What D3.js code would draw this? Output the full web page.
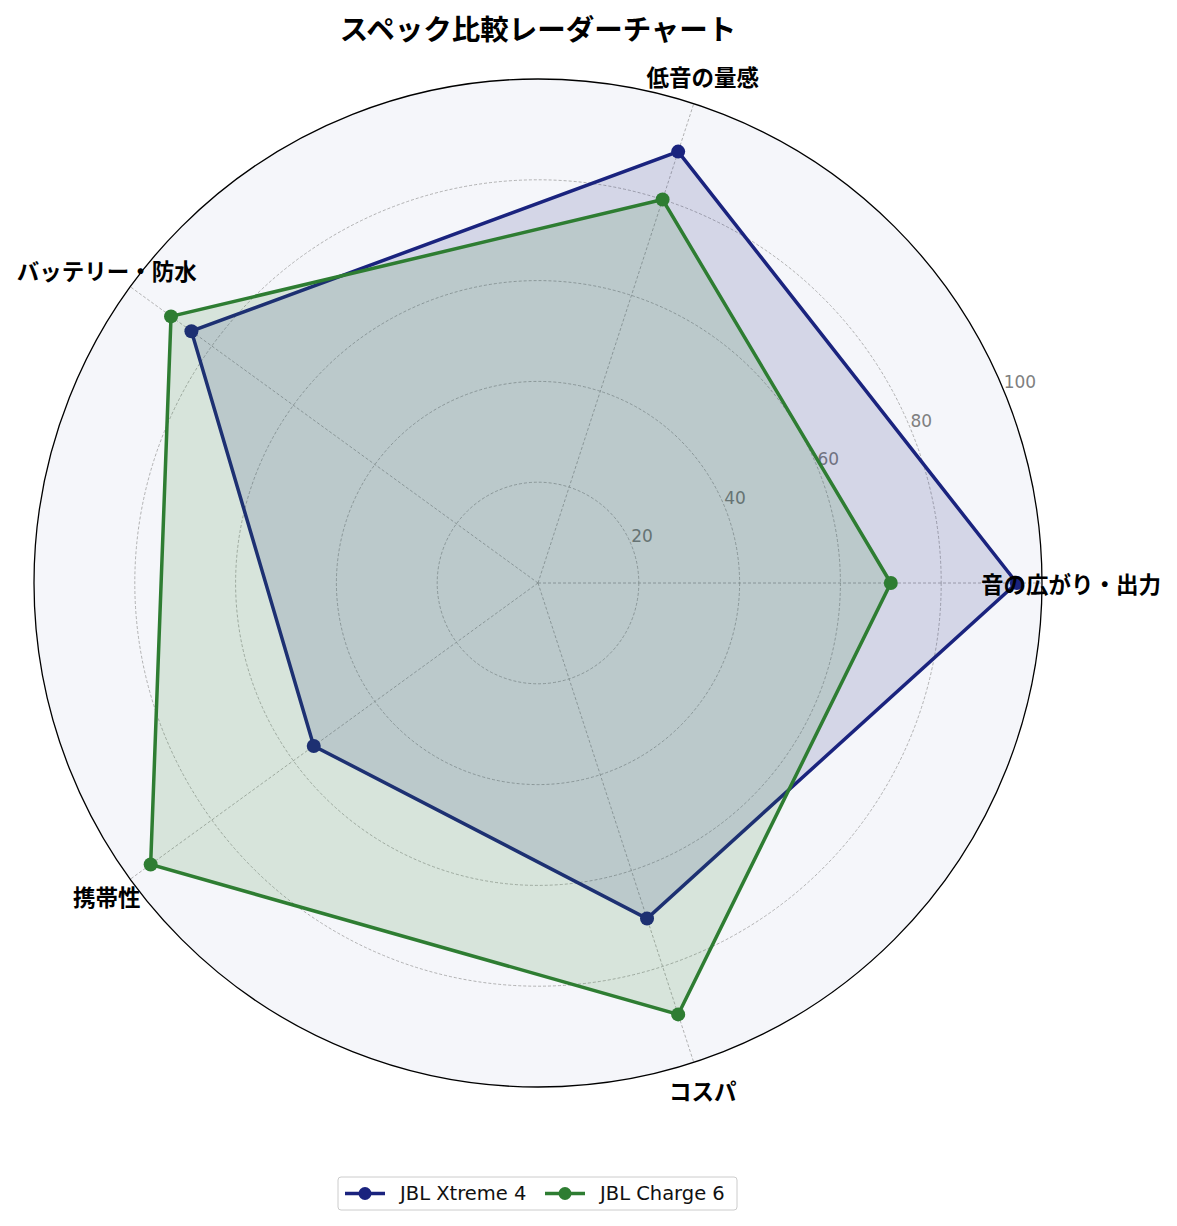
<!DOCTYPE html>
<html>
<head>
<meta charset="utf-8">
<script src="https://cdn.jsdelivr.net/npm/d3@7"></script>
<style>
  body { margin: 0; background: #fff; }
  svg { display: block; font-family: "Noto Sans CJK JP", "Noto Sans", sans-serif; }
</style>
</head>
<body>
<div id="chart"></div>
<script>
var w = 1177, h = 1226;
var cx = 538, cy = 583, R = 504;

var categories = ["音の広がり・出力", "低音の量感", "バッテリー・防水", "携帯性", "コスパ"];
var seriesNames = ["JBL Xtreme 4", "JBL Charge 6"];
var xtremeValues = [95, 90, 85, 55, 70];
var chargeValues = [70, 80, 90, 95, 90];
var rTicks = [20, 40, 60, 80, 100];

var colors = ["#1a237e", "#2e7d32"];
var series = [
  {name: seriesNames[0], values: xtremeValues, color: colors[0]},
  {name: seriesNames[1], values: chargeValues, color: colors[1]}
];

var r = d3.scaleLinear().domain([0, 100]).range([0, R]);
// angle (radians, counterclockwise from east) for category i
var angle = d3.scaleLinear().domain([0, categories.length]).range([0, 2 * Math.PI]);

function px(i, v) { return cx + r(v) * Math.cos(angle(i)); }
function py(i, v) { return cy - r(v) * Math.sin(angle(i)); }

var svg = d3.select("#chart").append("svg")
  .attr("width", w)
  .attr("height", h);

// background disc
svg.append("circle")
  .attr("cx", cx).attr("cy", cy).attr("r", r(100))
  .style("fill", "#f5f6fa");

// grid circles
svg.selectAll(".gridc")
  .data(rTicks.slice(0, -1))
  .enter()
  .append("circle")
  .attr("cx", cx).attr("cy", cy)
  .attr("r", function(d) { return r(d); })
  .style("fill", "none")
  .style("stroke", "#a0a0a0")
  .style("stroke-width", 0.8)
  .style("stroke-dasharray", "3,2");

// spokes
svg.selectAll(".spoke")
  .data(categories)
  .enter()
  .append("line")
  .attr("x1", cx).attr("y1", cy)
  .attr("x2", function(d, i) { return px(i, 100); })
  .attr("y2", function(d, i) { return py(i, 100); })
  .style("stroke", "#a0a0a0")
  .style("stroke-width", 0.8)
  .style("stroke-dasharray", "3,2");

// radial tick labels at 22.5deg
var la = 22.5 * Math.PI / 180;
svg.selectAll(".rlab")
  .data(rTicks)
  .enter()
  .append("text")
  .attr("x", function(d) { return cx + r(d) * Math.cos(la); })
  .attr("y", function(d) { return cy - r(d) * Math.sin(la) - 2; })
  .style("font-family", "'DejaVu Sans', sans-serif")
  .style("font-size", "17px")
  .style("fill", "#808080")
  .text(function(d) { return d; });

var line = d3.line()
  .x(function(d) { return px(d.i, d.v); })
  .y(function(d) { return py(d.i, d.v); })
  .curve(d3.curveLinearClosed);

series.forEach(function(s) {
  var pts = s.values.map(function(v, i) { return {i: i, v: v}; });
  var g = svg.append("g");
  g.append("path")
    .attr("d", line(pts))
    .style("fill", s.color)
    .style("fill-opacity", 0.15)
    .style("stroke", s.color)
    .style("stroke-width", 3.5)
    .style("stroke-linejoin", "miter");
  g.selectAll("circle")
    .data(pts)
    .enter()
    .append("circle")
    .attr("cx", function(d) { return px(d.i, d.v); })
    .attr("cy", function(d) { return py(d.i, d.v); })
    .attr("r", 7)
    .style("fill", s.color);
});

// category labels
svg.selectAll(".clab")
  .data(categories)
  .enter()
  .append("text")
  .attr("x", function(d, i) { return cx + 533 * Math.cos(angle(i)); })
  .attr("y", function(d, i) { return cy - 533 * Math.sin(angle(i)); })
  .attr("text-anchor", "middle")
  .attr("dominant-baseline", "central")
  .style("font-size", "22.5px")
  .style("font-weight", "bold")
  .style("fill", "#000")
  .text(function(d) { return d; });

// outer circle
svg.append("circle")
  .attr("cx", cx).attr("cy", cy).attr("r", r(100))
  .style("fill", "none")
  .style("stroke", "#000")
  .style("stroke-width", 1.3);

// title
svg.append("text")
  .attr("x", cx).attr("y", 27)
  .attr("text-anchor", "middle")
  .attr("dominant-baseline", "central")
  .style("font-size", "28.5px")
  .style("font-weight", "bold")
  .text("スペック比較レーダーチャート");

// legend
var lg = svg.append("g").attr("transform", "translate(338,1177)");
lg.append("rect")
  .attr("width", 399).attr("height", 33)
  .attr("rx", 3)
  .style("fill", "#fff")
  .style("stroke", "#ccc")
  .style("stroke-width", 1);
var items = lg.selectAll(".item")
  .data(series)
  .enter()
  .append("g")
  .attr("transform", function(d, i) { return "translate(" + (7 + i * 200) + ",16.5)"; });
items.append("line")
  .attr("x1", 0).attr("x2", 40)
  .style("stroke", function(d) { return d.color; })
  .style("stroke-width", 3.5);
items.append("circle")
  .attr("cx", 20).attr("r", 6.5)
  .style("fill", function(d) { return d.color; });
items.append("text")
  .attr("x", 55)
  .attr("dominant-baseline", "central")
  .style("font-family", "'DejaVu Sans', sans-serif")
  .style("font-size", "19.5px")
  .style("fill", "#111")
  .text(function(d) { return d.name; });
</script>
</body>
</html>
